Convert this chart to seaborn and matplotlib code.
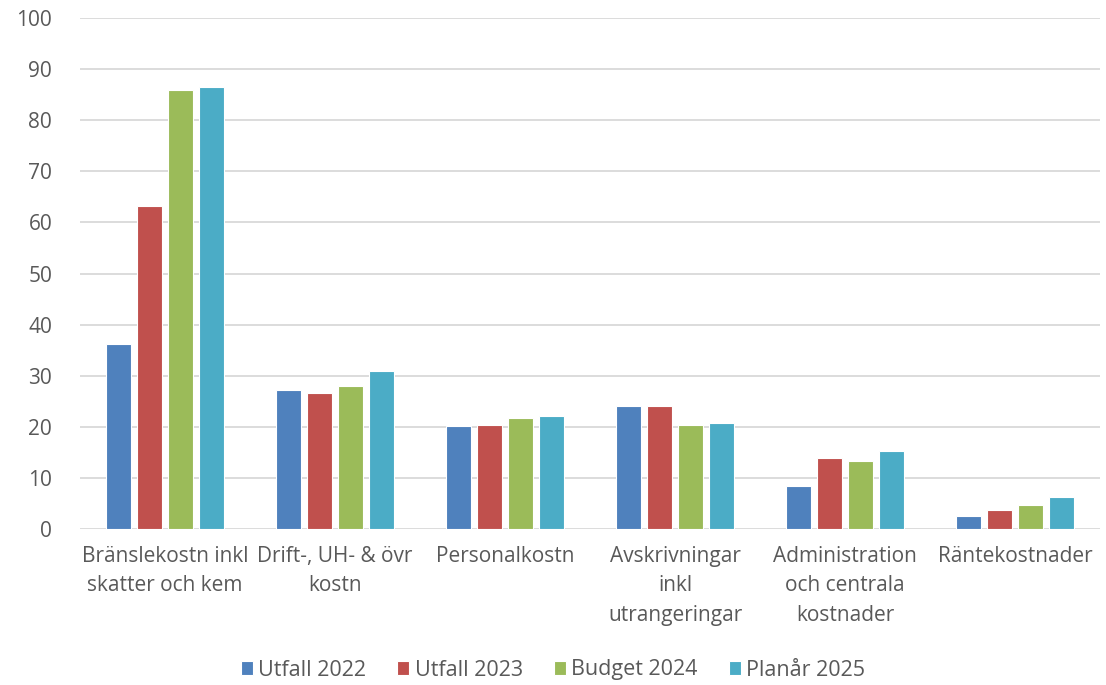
import matplotlib.pyplot as plt
import pandas as pd
import seaborn as sns

categories = [
    "Bränslekostn inkl\nskatter och kem",
    "Drift-, UH- & övr\nkostn",
    "Personalkostn",
    "Avskrivningar\ninkl\nutrangeringar",
    "Administration\noch centrala\nkostnader",
    "Räntekostnader",
]
series = ["Utfall 2022", "Utfall 2023", "Budget 2024", "Planår 2025"]
utfall_2022 = [36.3, 27.2, 20.1, 24.1, 8.5, 2.6]
utfall_2023 = [63.3, 26.7, 20.4, 24.0, 13.8, 3.7]
budget_2024 = [86.0, 28.0, 21.7, 20.4, 13.3, 4.7]
planar_2025 = [86.5, 31.0, 22.2, 20.8, 15.2, 6.2]
colors = ["#4F81BD", "#C0504D", "#9BBB59", "#4BACC6"]

rows = []
for name, vals in zip(series, [utfall_2022, utfall_2023, budget_2024, planar_2025]):
    for cat, v in zip(categories, vals):
        rows.append({"kategori": cat, "serie": name, "varde": v})
df = pd.DataFrame(rows)

sns.set_style("white")
plt.rcParams["font.family"] = ["Open Sans", "DejaVu Sans"]
text_color = "#595959"

fig = plt.figure(figsize=(11.06, 6.85), dpi=100)
ax = fig.add_axes([80 / 1106, 1 - 529 / 685, 1020 / 1106, 511 / 685])

sns.barplot(data=df, x="kategori", y="varde", hue="serie", order=categories,
            hue_order=series, palette=colors, width=0.73, gap=0.18,
            edgecolor="white", linewidth=0.8, saturation=1, ax=ax)

ax.set_ylim(0, 100)
ax.set_yticks(range(0, 101, 10))
ax.set_xlim(-0.5, len(categories) - 0.5)
ax.yaxis.grid(True, color="#D9D9D9", linewidth=1.3)
ax.set_axisbelow(True)
for s in ax.spines.values():
    s.set_visible(False)
ax.set_xlabel("")
ax.set_ylabel("")
ax.tick_params(axis="both", length=0, labelsize=15, colors=text_color)
ax.tick_params(axis="y", pad=20)
ax.tick_params(axis="x", pad=12)
for lbl in ax.get_xticklabels():
    lbl.set_linespacing(1.55)
    lbl.set_color(text_color)

handles, labels = ax.get_legend_handles_labels()
ax.legend_.remove()
leg = fig.legend(handles, labels, loc="center", bbox_to_anchor=(0.5, 1 - 670 / 685),
                 ncol=4, frameon=False, fontsize=15.5, handlelength=0.55,
                 handleheight=0.6, handletextpad=0.25, columnspacing=1.45)
for t in leg.get_texts():
    t.set_color(text_color)

fig.savefig("out.png", dpi=100)
